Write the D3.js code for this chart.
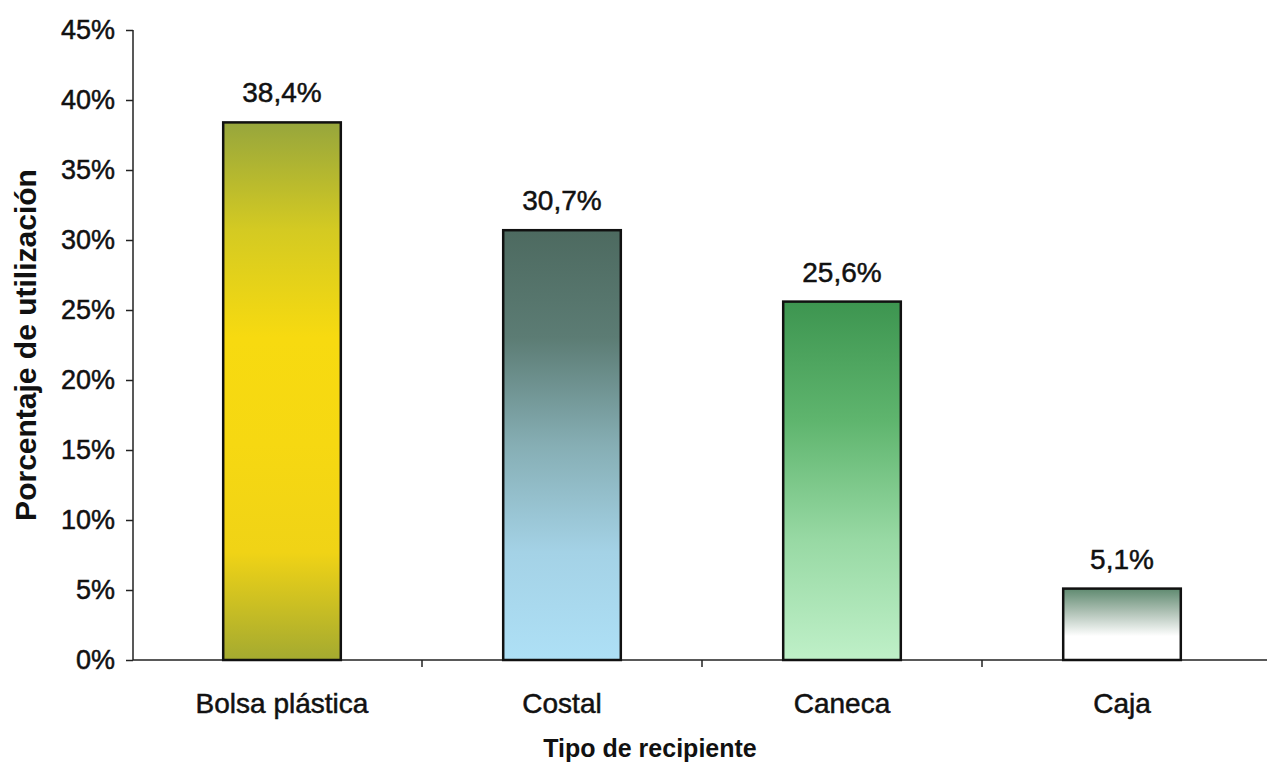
<!DOCTYPE html>
<html lang="es">
<head>
<meta charset="utf-8">
<title>Tipo de recipiente</title>
<script src="https://cdn.jsdelivr.net/npm/d3@7"></script>
<style>
  body { margin: 0; background: #fff; }
  text { font-family: "Liberation Sans", Arial, sans-serif; fill: #111; }
  .heavy { stroke: #111; stroke-width: 0.5px; }
  .axis path, .axis line { stroke: #222; stroke-width: 1.5px; }
</style>
</head>
<body>
<script>
// data
var categories = ["Bolsa plástica", "Costal", "Caneca", "Caja"];
var values = [38.4, 30.7, 25.6, 5.1];
var valueLabels = ["38,4%", "30,7%", "25,6%", "5,1%"];
var yTicks = [0, 5, 10, 15, 20, 25, 30, 35, 40, 45];
// gradient stops top -> bottom for each bar
var barStops = [
  ["#97a63c", "#d4ca22", "#f7da10", "#f6d812", "#f0d316", "#a4aa30"],
  ["#4d6a60", "#5c7c74", "#86aeb4", "#a4d2e6", "#aee0f6"],
  ["#3d9550", "#5fb56e", "#98d9a4", "#bff0c8"],
  ["#5f8a70", "#b0c2b6", "#ffffff", "#ffffff"]
];

var W = 1267, H = 765;
var margin = {top: 30, right: 5, bottom: 105, left: 133};

var svg = d3.select("body").append("svg")
    .attr("width", W).attr("height", H);

var x = d3.scaleBand()
    .domain(categories)
    .range([142, 1262]);

var y = d3.scaleLinear()
    .domain([0, 45])
    .range([H - margin.bottom, margin.top]);

var defs = svg.append("defs");
barStops.forEach(function(stops, i) {
  var g = defs.append("linearGradient")
      .attr("id", "grad" + i)
      .attr("x1", 0).attr("y1", 0).attr("x2", 0).attr("y2", 1);
  stops.forEach(function(c, j) {
    g.append("stop")
      .attr("offset", (j / (stops.length - 1) * 100) + "%")
      .attr("stop-color", c);
  });
});

// y axis
svg.append("g")
    .attr("class", "axis")
    .attr("transform", "translate(" + margin.left + ",0)")
    .call(d3.axisLeft(y).tickValues(yTicks).tickSize(7).tickPadding(11)
      .tickFormat(function(d) { return d + "%"; }))
    .call(function(g) { g.select(".domain").attr("d", "M0," + y(45) + "V" + y(0)); })
    .selectAll("text")
      .attr("class", "heavy")
      .style("font-size", "27px")
      .style("fill", "#111");

// x axis line with ticks between categories
var xg = svg.append("g").attr("class", "axis");
xg.append("line")
    .attr("x1", margin.left).attr("x2", W)
    .attr("y1", y(0)).attr("y2", y(0));
xg.selectAll(".sep")
    .data(categories.slice(1))
  .enter().append("line")
    .attr("class", "sep")
    .attr("x1", function(d) { return x(d); })
    .attr("x2", function(d) { return x(d); })
    .attr("y1", y(0)).attr("y2", y(0) + 7);

xg.selectAll(".cat")
    .data(categories)
  .enter().append("text")
    .attr("class", "cat heavy")
    .attr("x", function(d) { return x(d) + x.bandwidth() / 2; })
    .attr("y", y(0) + 53)
    .attr("text-anchor", "middle")
    .style("font-size", "28px")
    .text(function(d) { return d; });

// bars
var bw = x.bandwidth() * 0.42;
svg.selectAll(".bar")
    .data(values)
  .enter().append("rect")
    .attr("class", "bar")
    .attr("x", function(d, i) { return x(categories[i]) + x.bandwidth() / 2 - bw / 2; })
    .attr("width", bw)
    .attr("y", function(d) { return y(d); })
    .attr("height", function(d) { return y(0) - y(d); })
    .style("fill", function(d, i) { return "url(#grad" + i + ")"; })
    .style("stroke", "#111")
    .style("stroke-width", 2.5);

svg.selectAll(".vlabel")
    .data(values)
  .enter().append("text")
    .attr("class", "vlabel heavy")
    .attr("x", function(d, i) { return x(categories[i]) + x.bandwidth() / 2; })
    .attr("y", function(d) { return y(d) - 20; })
    .attr("text-anchor", "middle")
    .style("font-size", "28px")
    .text(function(d, i) { return valueLabels[i]; });

// axis titles
svg.append("text")
    .attr("transform", "translate(36," + (y(0) + y(45)) / 2 + ") rotate(-90)")
    .attr("text-anchor", "middle")
    .style("font-size", "30px")
    .style("font-weight", "bold")
    .text("Porcentaje de utilización");

svg.append("text")
    .attr("x", 650)
    .attr("y", 757)
    .attr("text-anchor", "middle")
    .style("font-size", "25px")
    .style("font-weight", "bold")
    .text("Tipo de recipiente");
</script>
</body>
</html>
